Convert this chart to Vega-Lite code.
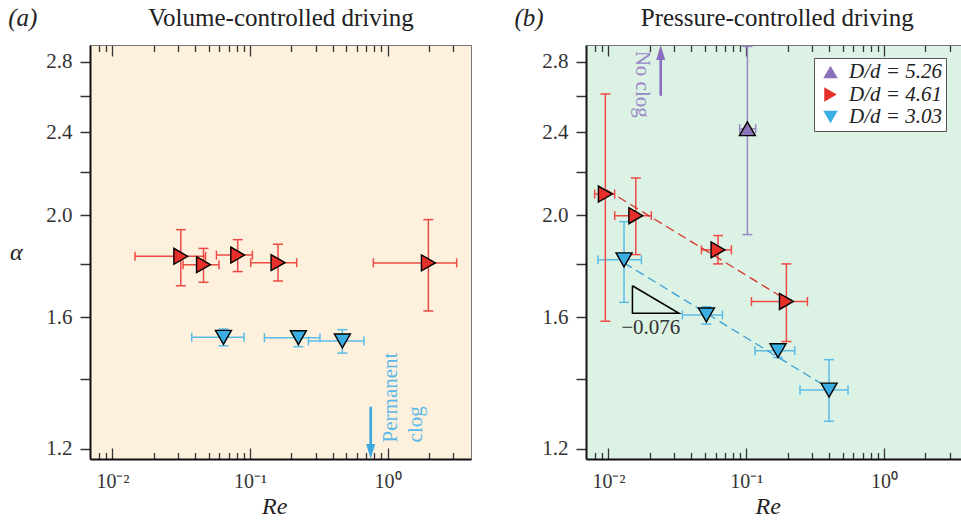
{
  "$schema": "https://vega.github.io/schema/vega-lite/v6.json",
  "background": "white",
  "padding": {"left": 7, "top": 5, "right": 0, "bottom": 0},
  "spacing": 115,
  "bounds": "flush",
  "config": {
    "font": "Liberation Serif",
    "view": {"stroke": null},
    "axis": {"labelFont": "Liberation Serif", "titleFont": "Liberation Serif", "grid": false},
    "legend": {"labelFont": "Liberation Serif"}
  },
  "resolve": {"legend": {"fill": "independent", "shape": "independent"}},
  "datasets": {
    "pts": [
      {"p":"a","s":"4.61","x":0.0314,"y":1.829,"xmin":0.0146,"xmax":0.0475,"ymin":1.715,"ymax":1.939},
      {"p":"a","s":"4.61","x":0.0459,"y":1.796,"xmin":0.0326,"xmax":0.0595,"ymin":1.728,"ymax":1.861},
      {"p":"a","s":"4.61","x":0.0814,"y":1.834,"xmin":0.0570,"xmax":0.1041,"ymin":1.769,"ymax":1.897},
      {"p":"a","s":"4.61","x":0.1598,"y":1.804,"xmin":0.1012,"xmax":0.2184,"ymin":1.733,"ymax":1.878},
      {"p":"a","s":"4.61","x":1.979,"y":1.803,"xmin":0.788,"xmax":3.178,"ymin":1.623,"ymax":1.982},
      {"p":"a","s":"3.03","x":0.0641,"y":1.532,"xmin":0.0377,"xmax":0.0905,"ymin":1.504,"ymax":1.560},
      {"p":"a","s":"3.03","x":0.2247,"y":1.531,"xmin":0.1272,"xmax":0.3226,"ymin":1.501,"ymax":1.552},
      {"p":"a","s":"3.03","x":0.4693,"y":1.520,"xmin":0.2657,"xmax":0.6738,"ymin":1.480,"ymax":1.558},
      {"p":"b","s":"5.26","x":0.1020,"y":2.418,"xmin":0.0897,"xmax":0.1172,"ymin":1.918,"ymax":2.895},
      {"p":"b","s":"4.61","x":0.0095,"y":2.096,"xmin":0.00795,"xmax":0.0111,"ymin":1.587,"ymax":2.609},
      {"p":"b","s":"4.61","x":0.0158,"y":1.999,"xmin":0.0111,"xmax":0.0205,"ymin":1.836,"ymax":2.171},
      {"p":"b","s":"4.61","x":0.0624,"y":1.855,"xmin":0.0473,"xmax":0.0781,"ymin":1.799,"ymax":1.914},
      {"p":"b","s":"4.61","x":0.1957,"y":1.657,"xmin":0.1091,"xmax":0.2780,"ymin":1.518,"ymax":1.799},
      {"p":"b","s":"3.03","x":0.01298,"y":1.815,"xmin":0.0084,"xmax":0.01736,"ymin":1.654,"ymax":1.973},
      {"p":"b","s":"3.03","x":0.0514,"y":1.609,"xmin":0.0344,"xmax":0.0672,"ymin":1.577,"ymax":1.638},
      {"p":"b","s":"3.03","x":0.1701,"y":1.488,"xmin":0.1158,"xmax":0.2249,"ymin":1.466,"ymax":1.510},
      {"p":"b","s":"3.03","x":0.399,"y":1.365,"xmin":0.2457,"xmax":0.5481,"ymin":1.275,"ymax":1.459}
    ],
    "fits": [
      {"s":"4.61","x":0.00967,"y":2.116,"i":0},{"s":"4.61","x":0.1957,"y":1.663,"i":1},
      {"s":"3.03","x":0.01298,"y":1.803,"i":0},{"s":"3.03","x":0.399,"y":1.370,"i":1}
    ],
    "tri": [
      {"x":0.01494,"y":1.715,"i":0},{"x":0.01494,"y":1.6145,"i":1},{"x":0.03253,"y":1.6145,"i":2},{"x":0.01494,"y":1.715,"i":3}
    ],
    "txt": [
      {"k":"clog","x":1.163,"y":1.2174,"t":"Permanent"},
      {"k":"clog","x":1.769,"y":1.2174,"t":"clog"},
      {"k":"noclog","x":0.01578,"y":2.868,"t":"No clog"},
      {"k":"slope","x":0.02028,"y":1.544,"t":"−0.076"}
    ],
    "arr": [
      {"p":"a","x":0.7536,"y":1.3163,"y2":1.2,"hy":1.1935},
      {"p":"b","x":0.02396,"y":2.599,"y2":2.845,"hy":2.857}
    ]
  },
  "hconcat": [
    {
      "width": 381,
      "height": 414,
      "view": {"fill": "#fdf1de", "stroke": "#777", "strokeWidth": 1},
      "resolve": {"axis": {"x": "independent", "y": "independent"}},
      "layer": [
        {
          "data": {"name": "pts"},
          "transform": [{"filter": "datum.p == 'a'"}],
          "mark": {"type": "rule", "strokeWidth": 1.5},
          "encoding": {
            "x": {"field": "xmin", "type": "quantitative", "scale": {"type": "log", "domain": [0.00687, 4.04], "nice": false},
              "axis": {"orient": "bottom", "values": [0.008,0.009,0.01,0.02,0.03,0.04,0.05,0.06,0.07,0.08,0.09,0.1,0.2,0.3,0.4,0.5,0.6,0.7,0.8,0.9,1,2,3],
                "tickSize": {"condition": {"test": "datum.value == 0.01 || datum.value == 0.1 || datum.value == 1", "value": -11}, "value": -6.5},
                "tickWidth": 1.3, "tickColor": "#333",
                "labelExpr": "datum.value == 0.01 ? '10⁻²' : datum.value == 0.1 ? '10⁻¹' : datum.value == 1 ? '10⁰' : ''",
                "labelFont": "Liberation Serif", "labelPadding": 39.4, "labelBaseline": "alphabetic", "labelFontSize": 20, "labelColor": "#333", "labelFlush": false, "labelOverlap": false,
                "domainColor": "#111", "domainWidth": 2,
                "title": "Re", "titleFont": "Liberation Serif", "titleFontStyle": "italic", "titleFontSize": 24, "titleFontWeight": "normal", "titleX": 184.2, "titleY": 54.7, "titleBaseline": "alphabetic", "titleAlign": "center", "titleColor": "#222"}},
            "x2": {"field": "xmax"},
            "y": {"field": "y", "type": "quantitative", "scale": {"type": "log", "domain": [1.174, 2.904], "nice": false},
              "axis": {"orient": "left", "values": [1.2,1.4,1.6,1.8,2.0,2.2,2.4,2.6,2.8],
                "labelExpr": "round(datum.value*10) % 4 == 0 ? format(datum.value, '.1f') : ''",
                "labelFont": "Liberation Serif", "tickSize": 10, "tickWidth": 1.5, "tickColor": "#333", "labelPadding": 8, "labelFontSize": 21, "labelColor": "#333", "labelFlush": false, "labelOverlap": false,
                "domainColor": "#111", "domainWidth": 2,
                "title": "α", "titleFont": "Liberation Serif", "titleFontStyle": "italic", "titleFontSize": 24, "titleFontWeight": "normal", "titleAngle": 0, "titleX": -74.3, "titleY": 207.7, "titleAlign": "center", "titleBaseline": "middle", "titleColor": "#222"}},
            "color": {"field": "s", "type": "nominal", "scale": {"domain": ["5.26","4.61","3.03"], "range": ["#9a86c6","#ee4b45","#5cbce8"]}, "legend": null}
          }
        },
        {
          "data": {"name": "pts"},
          "transform": [{"filter": "datum.p == 'a'"}],
          "mark": {"type": "rule", "strokeWidth": 1.5},
          "encoding": {
            "x": {"field": "x", "type": "quantitative",
              "axis": {"orient": "top", "values": [0.008,0.009,0.01,0.02,0.03,0.04,0.05,0.06,0.07,0.08,0.09,0.1,0.2,0.3,0.4,0.5,0.6,0.7,0.8,0.9,1,2,3],
                "tickSize": {"condition": {"test": "datum.value == 0.01 || datum.value == 0.1 || datum.value == 1", "value": -11}, "value": -6.5},
                "tickWidth": 1.3, "tickColor": "#333", "labels": false, "domainColor": "#777", "domainWidth": 1,
                "title": "Volume-controlled driving", "titleFont": "Liberation Serif", "titleFontSize": 25, "titleFontWeight": "normal", "titleX": 190.5, "titleY": -19.3, "titleAlign": "center", "titleBaseline": "alphabetic", "titleAngle": 0, "titleColor": "#222"}},
            "y": {"field": "ymin", "type": "quantitative",
              "axis": {"orient": "right", "domain": false, "ticks": false, "labels": false,
                "title": "(a)", "titleFont": "Liberation Serif", "titleFontStyle": "italic", "titleFontSize": 25, "titleFontWeight": "normal", "titleAngle": 0, "titleX": -463.3, "titleY": -19.3, "titleAlign": "left", "titleBaseline": "alphabetic", "titleColor": "#222"}},
            "y2": {"field": "ymax"},
            "color": {"field": "s", "type": "nominal", "legend": null}
          }
        },
        {
          "data": {"name": "pts"},
          "transform": [{"filter": "datum.p == 'a'"}],
          "mark": {"type": "tick", "orient": "vertical", "size": 9, "thickness": 1.5, "opacity": 1},
          "encoding": {
            "x": {"field": "xmin", "type": "quantitative", "axis": null},
            "y": {"field": "y", "type": "quantitative", "axis": null},
            "color": {"field": "s", "type": "nominal", "legend": null}
          }
        },
        {
          "data": {"name": "pts"},
          "transform": [{"filter": "datum.p == 'a'"}],
          "mark": {"type": "tick", "orient": "vertical", "size": 9, "thickness": 1.5, "opacity": 1},
          "encoding": {
            "x": {"field": "xmax", "type": "quantitative", "axis": null},
            "y": {"field": "y", "type": "quantitative", "axis": null},
            "color": {"field": "s", "type": "nominal", "legend": null}
          }
        },
        {
          "data": {"name": "pts"},
          "transform": [{"filter": "datum.p == 'a'"}],
          "mark": {"type": "tick", "orient": "horizontal", "size": 10, "thickness": 1.5, "opacity": 1},
          "encoding": {
            "x": {"field": "x", "type": "quantitative", "axis": null},
            "y": {"field": "ymin", "type": "quantitative", "axis": null},
            "color": {"field": "s", "type": "nominal", "legend": null}
          }
        },
        {
          "data": {"name": "pts"},
          "transform": [{"filter": "datum.p == 'a'"}],
          "mark": {"type": "tick", "orient": "horizontal", "size": 10, "thickness": 1.5, "opacity": 1},
          "encoding": {
            "x": {"field": "x", "type": "quantitative", "axis": null},
            "y": {"field": "ymax", "type": "quantitative", "axis": null},
            "color": {"field": "s", "type": "nominal", "legend": null}
          }
        },
        {
          "data": {"name": "pts"},
          "transform": [{"filter": "datum.p == 'a'"}],
          "mark": {"type": "point", "filled": true, "stroke": "black", "strokeWidth": 1.4, "size": 256, "opacity": 1},
          "encoding": {
            "x": {"field": "x", "type": "quantitative", "axis": null},
            "y": {"field": "y", "type": "quantitative", "axis": null},
            "shape": {"field": "s", "type": "nominal", "scale": {"domain": ["5.26","4.61","3.03"], "range": ["triangle-up","triangle-right","triangle-down"]}, "legend": null},
            "fill": {"field": "s", "type": "nominal", "scale": {"domain": ["5.26","4.61","3.03"], "range": ["#8a73b8","#e8302a","#3aaee2"]}, "legend": null}
          }
        },
        {
          "data": {"name": "txt"},
          "transform": [{"filter": "datum.k == 'clog'"}],
          "mark": {"type": "text", "angle": 270, "align": "left", "baseline": "alphabetic", "font": "Liberation Serif", "fontSize": 21, "color": "#5cb8e6"},
          "encoding": {
            "x": {"field": "x", "type": "quantitative", "axis": null},
            "y": {"field": "y", "type": "quantitative", "axis": null},
            "text": {"field": "t"}
          }
        },
        {
          "data": {"name": "arr"},
          "transform": [{"filter": "datum.p == 'a'"}],
          "mark": {"type": "rule", "strokeWidth": 2.6, "color": "#3da9e1"},
          "encoding": {
            "x": {"field": "x", "type": "quantitative", "axis": null},
            "y": {"field": "y", "type": "quantitative", "axis": null},
            "y2": {"field": "y2"}
          }
        },
        {
          "data": {"name": "arr"},
          "transform": [{"filter": "datum.p == 'a'"}],
          "mark": {"type": "point", "shape": "M-0.6,-1L0,1L0.6,-1Z", "filled": true, "size": 225, "color": "#3da9e1", "opacity": 1},
          "encoding": {
            "x": {"field": "x", "type": "quantitative", "axis": null},
            "y": {"field": "hy", "type": "quantitative", "axis": null}
          }
        }
      ]
    },
    {
      "width": 375,
      "height": 414,
      "view": {"fill": "#dcf2e4", "stroke": null},
      "resolve": {"axis": {"x": "independent", "y": "independent"}},
      "layer": [
        {
          "data": {"name": "pts"},
          "transform": [{"filter": "datum.p == 'b'"}],
          "mark": {"type": "rule", "strokeWidth": 1.5},
          "encoding": {
            "x": {"field": "xmin", "type": "quantitative", "scale": {"type": "log", "domain": [0.006877, 3.62], "nice": false},
              "axis": {"orient": "bottom", "values": [0.008,0.009,0.01,0.02,0.03,0.04,0.05,0.06,0.07,0.08,0.09,0.1,0.2,0.3,0.4,0.5,0.6,0.7,0.8,0.9,1,2,3],
                "tickSize": {"condition": {"test": "datum.value == 0.01 || datum.value == 0.1 || datum.value == 1", "value": -11}, "value": -6.5},
                "tickWidth": 1.3, "tickColor": "#333",
                "labelExpr": "datum.value == 0.01 ? '10⁻²' : datum.value == 0.1 ? '10⁻¹' : datum.value == 1 ? '10⁰' : ''",
                "labelFont": "Liberation Serif", "labelPadding": 39.4, "labelBaseline": "alphabetic", "labelFontSize": 20, "labelColor": "#333", "labelFlush": false, "labelOverlap": false,
                "domainColor": "#111", "domainWidth": 2,
                "title": "Re", "titleFont": "Liberation Serif", "titleFontStyle": "italic", "titleFontSize": 24, "titleFontWeight": "normal", "titleX": 181.7, "titleY": 54.7, "titleBaseline": "alphabetic", "titleAlign": "center", "titleColor": "#222"}},
            "x2": {"field": "xmax"},
            "y": {"field": "y", "type": "quantitative", "scale": {"type": "log", "domain": [1.174, 2.904], "nice": false},
              "axis": {"orient": "left", "values": [1.2,1.4,1.6,1.8,2.0,2.2,2.4,2.6,2.8],
                "labelExpr": "round(datum.value*10) % 4 == 0 ? format(datum.value, '.1f') : ''",
                "labelFont": "Liberation Serif", "tickSize": 10, "tickWidth": 1.5, "tickColor": "#333", "labelPadding": 8, "labelFontSize": 21, "labelColor": "#333", "labelFlush": false, "labelOverlap": false,
                "domainColor": "#111", "domainWidth": 2, "title": null}},
            "color": {"field": "s", "type": "nominal", "scale": {"domain": ["5.26","4.61","3.03"], "range": ["#9a86c6","#ee4b45","#5cbce8"]}, "legend": null}
          }
        },
        {
          "data": {"name": "pts"},
          "transform": [{"filter": "datum.p == 'b'"}],
          "mark": {"type": "rule", "strokeWidth": 1.5},
          "encoding": {
            "x": {"field": "x", "type": "quantitative",
              "axis": {"orient": "top", "values": [0.008,0.009,0.01,0.02,0.03,0.04,0.05,0.06,0.07,0.08,0.09,0.1,0.2,0.3,0.4,0.5,0.6,0.7,0.8,0.9,1,2,3],
                "tickSize": {"condition": {"test": "datum.value == 0.01 || datum.value == 0.1 || datum.value == 1", "value": -11}, "value": -6.5},
                "tickWidth": 1.3, "tickColor": "#333", "labels": false, "domainColor": "#777", "domainWidth": 1,
                "title": "Pressure-controlled driving", "titleFont": "Liberation Serif", "titleFontSize": 25, "titleFontWeight": "normal", "titleX": 190.7, "titleY": -19.3, "titleAlign": "center", "titleBaseline": "alphabetic", "titleAngle": 0, "titleColor": "#222"}},
            "y": {"field": "ymin", "type": "quantitative",
              "axis": {"orient": "right", "domain": false, "ticks": false, "labels": false,
                "title": "(b)", "titleFont": "Liberation Serif", "titleFontStyle": "italic", "titleFontSize": 25, "titleFontWeight": "normal", "titleAngle": 0, "titleX": -447, "titleY": -19.3, "titleAlign": "left", "titleBaseline": "alphabetic", "titleColor": "#222"}},
            "y2": {"field": "ymax"},
            "color": {"field": "s", "type": "nominal", "legend": null}
          }
        },
        {
          "data": {"name": "pts"},
          "transform": [{"filter": "datum.p == 'b'"}],
          "mark": {"type": "tick", "orient": "vertical", "size": 9, "thickness": 1.5, "opacity": 1},
          "encoding": {
            "x": {"field": "xmin", "type": "quantitative", "axis": null},
            "y": {"field": "y", "type": "quantitative", "axis": null},
            "color": {"field": "s", "type": "nominal", "legend": null}
          }
        },
        {
          "data": {"name": "pts"},
          "transform": [{"filter": "datum.p == 'b'"}],
          "mark": {"type": "tick", "orient": "vertical", "size": 9, "thickness": 1.5, "opacity": 1},
          "encoding": {
            "x": {"field": "xmax", "type": "quantitative", "axis": null},
            "y": {"field": "y", "type": "quantitative", "axis": null},
            "color": {"field": "s", "type": "nominal", "legend": null}
          }
        },
        {
          "data": {"name": "pts"},
          "transform": [{"filter": "datum.p == 'b'"}],
          "mark": {"type": "tick", "orient": "horizontal", "size": 10, "thickness": 1.5, "opacity": 1},
          "encoding": {
            "x": {"field": "x", "type": "quantitative", "axis": null},
            "y": {"field": "ymin", "type": "quantitative", "axis": null},
            "color": {"field": "s", "type": "nominal", "legend": null}
          }
        },
        {
          "data": {"name": "pts"},
          "transform": [{"filter": "datum.p == 'b'"}],
          "mark": {"type": "tick", "orient": "horizontal", "size": 10, "thickness": 1.5, "opacity": 1},
          "encoding": {
            "x": {"field": "x", "type": "quantitative", "axis": null},
            "y": {"field": "ymax", "type": "quantitative", "axis": null},
            "color": {"field": "s", "type": "nominal", "legend": null}
          }
        },
        {
          "data": {"name": "fits"},
          "mark": {"type": "line", "strokeWidth": 1.3, "strokeDash": [9, 5]},
          "encoding": {
            "x": {"field": "x", "type": "quantitative", "axis": null},
            "y": {"field": "y", "type": "quantitative", "axis": null},
            "order": {"field": "i"},
            "stroke": {"field": "s", "type": "nominal", "scale": {"domain": ["4.61","3.03"], "range": ["#d8342e","#3a9fd6"]}, "legend": null}
          }
        },
        {
          "data": {"name": "tri"},
          "mark": {"type": "line", "strokeWidth": 1.5, "color": "black", "strokeJoin": "miter"},
          "encoding": {
            "x": {"field": "x", "type": "quantitative", "axis": null},
            "y": {"field": "y", "type": "quantitative", "axis": null},
            "order": {"field": "i"}
          }
        },
        {
          "data": {"name": "txt"},
          "transform": [{"filter": "datum.k == 'slope'"}],
          "mark": {"type": "text", "align": "center", "baseline": "alphabetic", "font": "Liberation Serif", "fontSize": 21, "color": "#333"},
          "encoding": {
            "x": {"field": "x", "type": "quantitative", "axis": null},
            "y": {"field": "y", "type": "quantitative", "axis": null},
            "text": {"field": "t"}
          }
        },
        {
          "data": {"name": "pts"},
          "transform": [{"filter": "datum.p == 'b'"}],
          "mark": {"type": "point", "filled": true, "stroke": "black", "strokeWidth": 1.4, "size": 256, "opacity": 1},
          "encoding": {
            "x": {"field": "x", "type": "quantitative", "axis": null},
            "y": {"field": "y", "type": "quantitative", "axis": null},
            "shape": {"field": "s", "type": "nominal", "scale": {"domain": ["5.26","4.61","3.03"], "range": ["triangle-up","triangle-right","triangle-down"]},
              "legend": {"orient": "none", "legendX": 228, "legendY": 13, "title": null, "fillColor": "white", "strokeColor": "#555", "padding": 3.5, "symbolOffset": 2.5, "symbolSize": 210, "symbolStrokeColor": "black", "symbolStrokeWidth": 1.3, "labelFont": "Liberation Serif", "labelFontSize": 21, "labelFontStyle": "italic", "labelColor": "#222", "labelOffset": 8, "rowPadding": 0.5, "labelExpr": "'D/d = ' + datum.label", "cornerRadius": 0}},
            "fill": {"field": "s", "type": "nominal", "scale": {"domain": ["5.26","4.61","3.03"], "range": ["#8a73b8","#e8302a","#3aaee2"]},
              "legend": {"orient": "none", "legendX": 228, "legendY": 13, "title": null, "fillColor": "white", "strokeColor": "#555", "padding": 3.5, "symbolOffset": 2.5, "symbolSize": 210, "symbolStrokeColor": "black", "symbolStrokeWidth": 1.3, "labelFont": "Liberation Serif", "labelFontSize": 21, "labelFontStyle": "italic", "labelColor": "#222", "labelOffset": 8, "rowPadding": 0.5, "labelExpr": "'D/d = ' + datum.label", "cornerRadius": 0}}
          }
        },
        {
          "data": {"name": "txt"},
          "transform": [{"filter": "datum.k == 'noclog'"}],
          "mark": {"type": "text", "angle": 90, "align": "left", "baseline": "alphabetic", "font": "Liberation Serif", "fontSize": 21, "color": "#9888c6"},
          "encoding": {
            "x": {"field": "x", "type": "quantitative", "axis": null},
            "y": {"field": "y", "type": "quantitative", "axis": null},
            "text": {"field": "t"}
          }
        },
        {
          "data": {"name": "arr"},
          "transform": [{"filter": "datum.p == 'b'"}],
          "mark": {"type": "rule", "strokeWidth": 2.6, "color": "#8a6fc0"},
          "encoding": {
            "x": {"field": "x", "type": "quantitative", "axis": null},
            "y": {"field": "y", "type": "quantitative", "axis": null},
            "y2": {"field": "y2"}
          }
        },
        {
          "data": {"name": "arr"},
          "transform": [{"filter": "datum.p == 'b'"}],
          "mark": {"type": "point", "shape": "M-0.6,1L0,-1L0.6,1Z", "filled": true, "size": 225, "color": "#8a6fc0", "opacity": 1},
          "encoding": {
            "x": {"field": "x", "type": "quantitative", "axis": null},
            "y": {"field": "hy", "type": "quantitative", "axis": null}
          }
        }
      ]
    }
  ]
}
